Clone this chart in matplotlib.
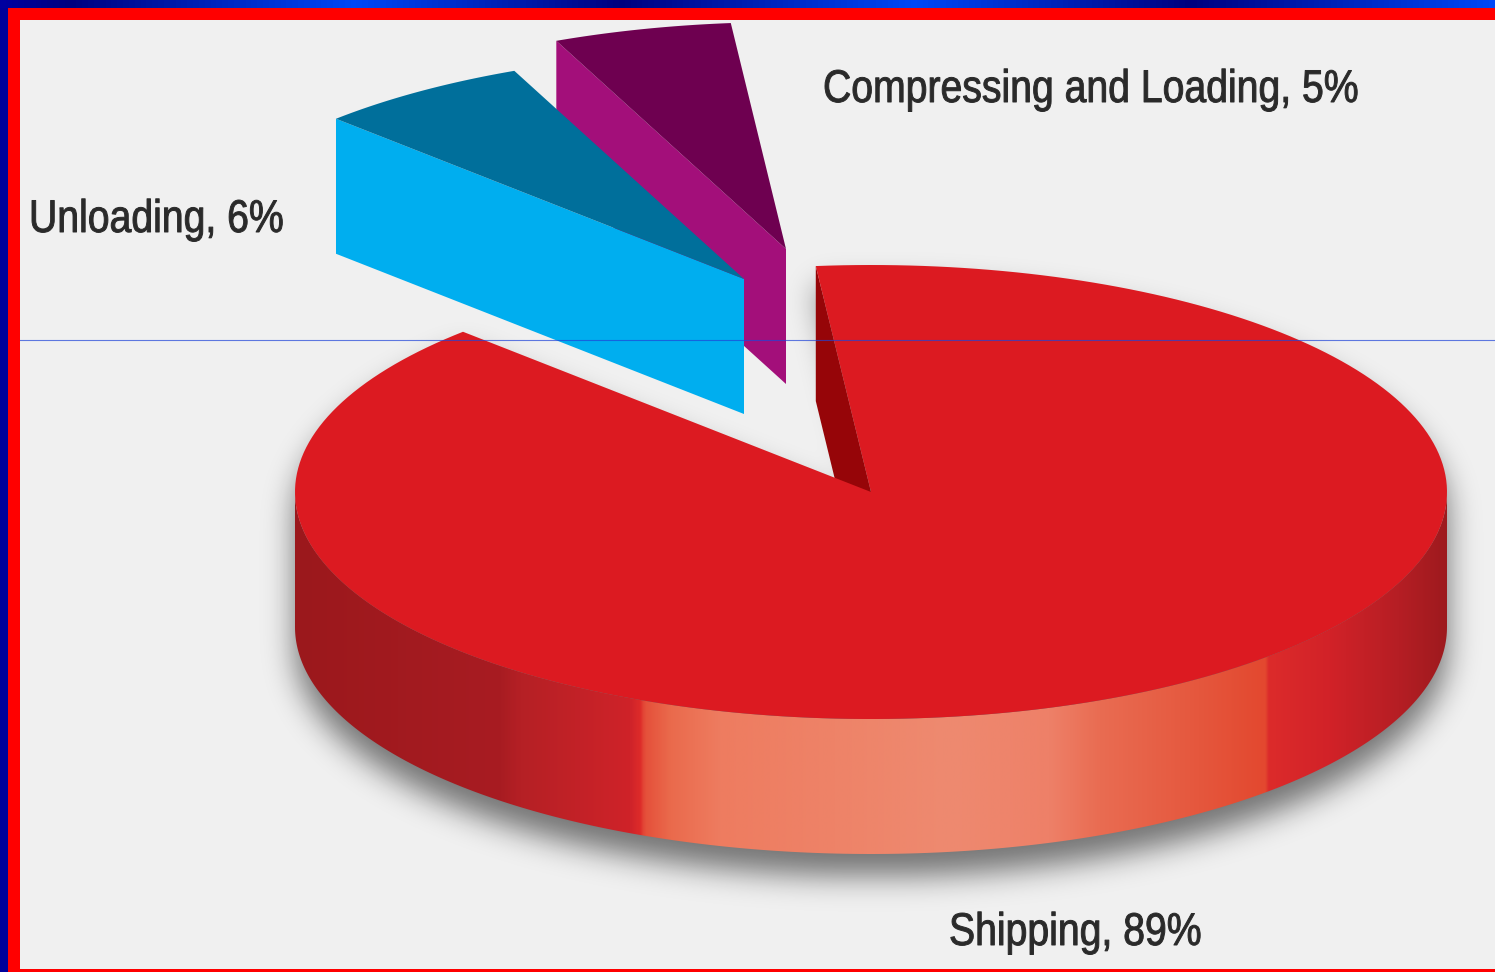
import numpy as np
import matplotlib
matplotlib.use("Agg")
import matplotlib.pyplot as plt
from matplotlib.colors import LinearSegmentedColormap
from matplotlib.patches import Polygon, Rectangle
from matplotlib.path import Path
from matplotlib.patheffects import AbstractPathEffect
from matplotlib.transforms import Affine2D

# Shares of the three stages, in percent
categories = ["Shipping", "Unloading", "Compressing and Loading"]
shares = [89, 6, 5]

W, H = 1495, 972
CX, CY, RX, RY = 871, 492, 576, 227
DEPTH = 135
START_ANGLE = 95.5

TOP_COLORS = {"Shipping": "#dc1a21", "Unloading": "#006f9b", "Compressing and Loading": "#6e0050"}
FACE_COLORS = {"Shipping": "#960508", "Unloading": "#00aeef", "Compressing and Loading": "#a30f7a"}
OFFSETS = {"Shipping": (0, 0), "Unloading": (-127, -213), "Compressing and Loading": (-85, -243)}
BACKGROUND = "#f0f0f0"

RIM_STOPS = [(295, "#9b181c"), (500, "#a81c22"), (520, "#b52025"), (630, "#cf2329"),
             (640, "#de2c2a"), (645, "#e5503a"), (670, "#ea6a4c"), (720, "#ee7c60"),
             (950, "#ee8a70"), (1050, "#ee8068"), (1100, "#e96c52"), (1200, "#e5573d"),
             (1266, "#e3482f"), (1270, "#dc2b2b"), (1330, "#d22228"), (1400, "#b51e24"),
             (1447, "#9e1a1e")]


class CondensedInk(AbstractPathEffect):
    """Stretches glyphs vertically and thickens them, giving a condensed bold look."""

    def __init__(self, stretch, weight):
        super().__init__()
        self.stretch = stretch
        self.weight = weight

    def draw_path(self, renderer, gc, tpath, affine, rgbFace=None):
        gc0 = renderer.new_gc()
        gc0.copy_properties(gc)
        gc0.set_linewidth(self.weight)
        gc0.set_foreground(rgbFace)
        renderer.draw_path(gc0, tpath, Affine2D().scale(1, self.stretch) + affine, rgbFace)
        gc0.restore()


def rim_point(angle, dx=0, dy=0, drop=0):
    t = np.radians(angle)
    return (CX + dx + RX * np.cos(t), CY + dy - RY * np.sin(t) + drop)


def arc(a0, a1, dx=0, dy=0, drop=0, n=240):
    return [rim_point(a, dx, dy, drop) for a in np.linspace(a0, a1, n)]


# Sweep of each slice, laid out counter-clockwise from the small cut at the top
comp_end = START_ANGLE + shares[2] * 3.6
unload_end = comp_end + shares[1] * 3.6
ship_end = unload_end + shares[0] * 3.6

fig = plt.figure(figsize=(W / 100, H / 100), dpi=100, facecolor=BACKGROUND)
ax = fig.add_axes([0, 0, 1, 1])
ax.axis("off")
ax.set_facecolor(BACKGROUND)

# Soft drop shadow behind the main slice
main_top = arc(unload_end, ship_end)
silhouette = Path(main_top + [(CX, CY)])
low = Path(arc(180, 360) + arc(360, 180, drop=DEPTH))
yy, xx = np.mgrid[0:H, 0:W]
pts = np.column_stack([xx.ravel(), yy.ravel()])
mask = (silhouette.contains_points(pts) | low.contains_points(pts)).reshape(H, W).astype(float)
sigma = 15
kx = np.arange(-45, 46)
kernel = np.exp(-kx ** 2 / (2 * sigma ** 2))
kernel /= kernel.sum()
pad = 50
blur = np.pad(mask, pad)
blur = np.roll(blur, 22, axis=0)
blur = np.apply_along_axis(lambda r: np.convolve(r, kernel, mode="same"), 0, blur)
blur = np.apply_along_axis(lambda r: np.convolve(r, kernel, mode="same"), 1, blur)
blur = blur[pad:-pad, pad:-pad]
shadow = np.zeros((H, W, 4))
shadow[..., 3] = 0.52 * blur
ax.imshow(shadow, extent=(0, W, H, 0), zorder=1, interpolation="bilinear", aspect="auto")

# Compressing and Loading: the rear slice
name = categories[2]
dx, dy = OFFSETS[name]
apex = (CX + dx, CY + dy)
end = rim_point(comp_end, dx, dy)
ax.add_patch(Polygon([end, apex, (apex[0], apex[1] + DEPTH), (end[0], end[1] + DEPTH)],
                     fc=FACE_COLORS[name], ec="none", zorder=2))
ax.add_patch(Polygon(arc(START_ANGLE, comp_end, dx, dy, n=40) + [apex],
                     fc=TOP_COLORS[name], ec="none", zorder=3))

# Unloading: sits in front of the rear slice
name = categories[1]
dx, dy = OFFSETS[name]
apex = (CX + dx, CY + dy)
end = rim_point(unload_end, dx, dy)
ax.add_patch(Polygon([end, apex, (apex[0], apex[1] + DEPTH), (end[0], end[1] + DEPTH)],
                     fc=FACE_COLORS[name], ec="none", zorder=4))
ax.add_patch(Polygon(arc(comp_end, unload_end, dx, dy, n=40) + [apex],
                     fc=TOP_COLORS[name], ec="none", zorder=5))

# Shipping: inner cut face, shaded rim, then the top surface
name = categories[0]
start_pt = rim_point(START_ANGLE)
ax.add_patch(Polygon([start_pt, (CX, CY), (CX, CY + DEPTH), (start_pt[0], start_pt[1] + DEPTH)],
                     fc=FACE_COLORS[name], ec="none", zorder=6))

x0, x1 = RIM_STOPS[0][0], RIM_STOPS[-1][0]
rim_cmap = LinearSegmentedColormap.from_list(
    "rim", [((x - x0) / (x1 - x0), c) for x, c in RIM_STOPS], N=1024)
rim_img = ax.imshow(np.linspace(0, 1, 1200)[None, :], cmap=rim_cmap, vmin=0, vmax=1,
                    extent=(x0, x1, CY + DEPTH + RY + 2, CY - 2), aspect="auto", zorder=7)
rim_clip = Polygon(arc(180, 360) + arc(360, 180, drop=DEPTH), transform=ax.transData,
                   fc="none", ec="none")
ax.add_patch(rim_clip)
rim_img.set_clip_path(rim_clip)

ax.add_patch(Polygon(main_top + [(CX, CY)], fc=TOP_COLORS[name], ec="none", zorder=8))

# Slice labels
label_style = dict(family="Liberation Sans", fontsize=28.2, color="#2a2a2a", zorder=10,
                   va="baseline", ha="left", path_effects=[CondensedInk(1.17, 0.7)])
ax.text(823, 102, f"{categories[2]}, {shares[2]}%", **label_style)
ax.text(29, 232, f"{categories[1]}, {shares[1]}%", **label_style)
ax.text(949, 945, f"{categories[0]}, {shares[0]}%", **label_style)

# Frame: repeating blue gradient band, red inner border, thin blue rule across the panel
NAVY, BRIGHT = "#00007f", "#0048f8"
band_stops = [(0, "#0000a0"), (67, NAVY), (353, BRIGHT), (620, NAVY), (915, BRIGHT),
              (1192, NAVY), (1495, BRIGHT)]
band = LinearSegmentedColormap.from_list("band", [(x / W, c) for x, c in band_stops])
ax.imshow(np.linspace(0, 1, 1495)[None, :], cmap=band, extent=(0, W, 8, 0), aspect="auto", zorder=11)
ax.add_patch(Rectangle((0, 8), 8, H - 8, fc="#00009a", ec="none", zorder=12))
ax.add_patch(Rectangle((8, 8), W - 8, 12, fc="#ff0000", ec="none", zorder=12))
ax.add_patch(Rectangle((8, 8), 11.5, H - 8, fc="#ff0000", ec="none", zorder=12))
ax.add_patch(Rectangle((8, H - 3), W - 8, 3, fc="#ff0000", ec="none", zorder=12))
ax.plot([20, W], [340.5, 340.5], color="#1f44d8", lw=0.8, alpha=0.7, zorder=9)

ax.set_xlim(0, W)
ax.set_ylim(H, 0)
fig.savefig("out.png", dpi=100, facecolor=BACKGROUND)
